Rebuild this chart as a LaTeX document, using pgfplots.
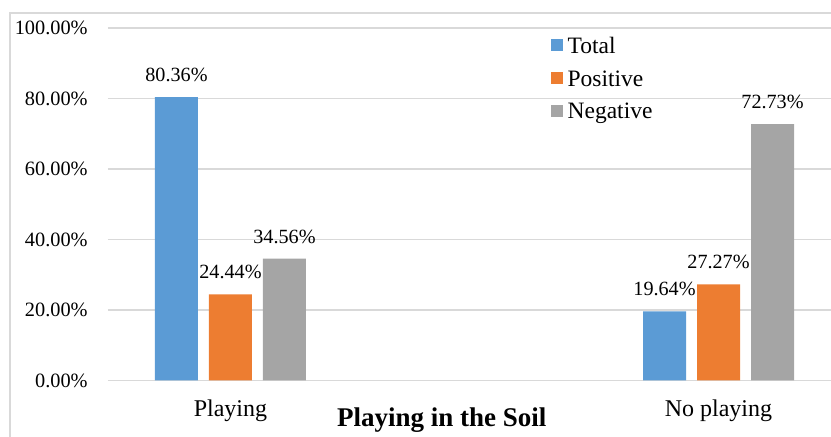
\documentclass[border=0pt]{standalone}
\usepackage{fontspec}
\setmainfont{Liberation Serif}
\usepackage{pgfplots}
\pgfplotsset{compat=1.18}
\definecolor{cTotal}{HTML}{5B9BD5}
\definecolor{cPos}{HTML}{ED7D31}
\definecolor{cNeg}{HTML}{A5A5A5}
\definecolor{gridgray}{HTML}{D9D9D9}

\begin{document}
\begin{tikzpicture}
\useasboundingbox (0,0) rectangle (498.6pt,262.2pt);
% chart frame (left and top edges)
\draw[gridgray, line width=0.7pt] (6pt,0) -- (6pt,254.4pt) -- (498.6pt,254.4pt);
\begin{axis}[
  at={(64.8pt,33.9pt)}, anchor=south west,
  scale only axis, width=433.8pt, height=211.5pt,
  clip=false,
  ybar=6.6pt, bar width=25.8pt,
  xmin=-0.251, xmax=1.2305, ymin=0, ymax=100,
  xtick={0,1}, xticklabels={Playing, No playing},
  ytick={0,20,40,60,80,100},
  yticklabels={0.00\%,20.00\%,40.00\%,60.00\%,80.00\%,100.00\%},
  axis line style={draw=none},
  major tick length=0pt,
  ymajorgrids, grid style={gridgray, line width=0.9pt},
  /pgf/number format/assume math mode=true,
  yticklabel style={font=\fontsize{12.2}{14}\selectfont, anchor=east, inner sep=0pt, xshift=-12pt},
  xticklabel style={font=\fontsize{14.4}{17}\selectfont, anchor=base, inner sep=0pt, yshift=-21.9pt},
  xlabel={Playing in the Soil},
  xlabel style={at={(axis description cs:0.4615,0)}, anchor=base, inner sep=0pt, yshift=-27.7pt,
    font=\bfseries\fontsize{16.2}{19}\selectfont},
  point meta=y,
  nodes near coords={\pgfmathprintnumber[fixed,fixed zerofill,precision=2]{\pgfplotspointmeta}\%},
  nodes near coords style={font=\fontsize{12.1}{14}\selectfont, anchor=center, inner sep=0pt, yshift=13.2pt, black},
  legend image code/.code={\fill[#1] (0pt,-2.8pt) rectangle (7.2pt,4.4pt);},
  legend cell align=left,
  legend style={draw=none, fill=none, at={(axis description cs:0.6127,0.855)}, anchor=west,
    inner sep=0pt, row sep=4.8pt, font=\fontsize{14.1}{16}\selectfont,
    /tikz/every odd column/.append style={column sep=0.6pt}},
]
\addplot[fill=cTotal, draw=none] coordinates {(0,80.36) (1,19.64)};
\addplot[fill=cPos, draw=none] coordinates {(0,24.44) (1,27.27)};
\addplot[fill=cNeg, draw=none] coordinates {(0,34.56) (1,72.73)};
\legend{Total,Positive,Negative}
\end{axis}
\end{tikzpicture}
\end{document}
